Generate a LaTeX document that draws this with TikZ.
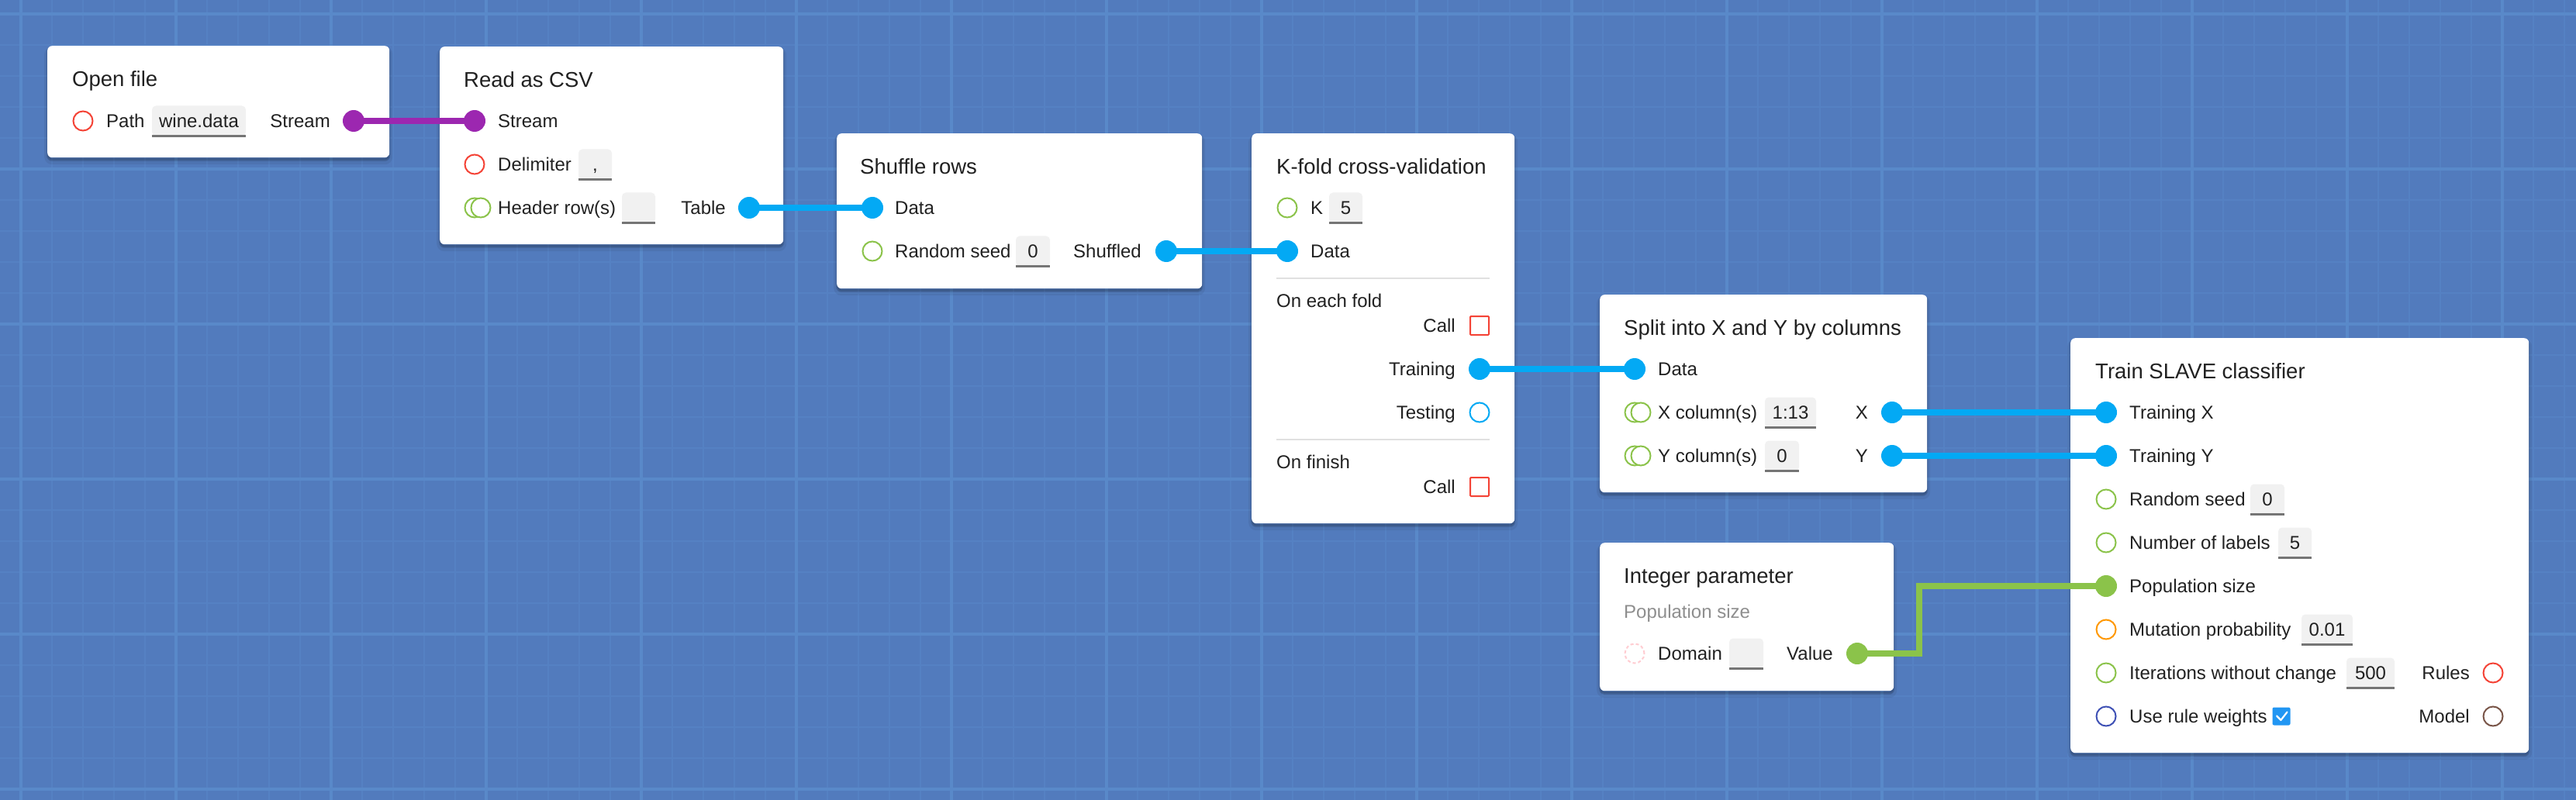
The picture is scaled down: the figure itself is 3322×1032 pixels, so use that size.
\documentclass[tikz,border=0pt]{standalone}
\usepackage{fontspec}
\setmainfont{Liberation Sans}
\usetikzlibrary{calc}
\pgfdeclarelayer{gridlayer}
\pgfdeclarelayer{cards}
\pgfdeclarelayer{conns}
\pgfsetlayers{gridlayer,cards,conns,main}
\definecolor{bg}{RGB}{82,123,189}
\definecolor{gridminor}{RGB}{85,129,195}
\definecolor{gridmajor}{RGB}{89,137,201}
\definecolor{txt}{HTML}{212121}
\definecolor{pred}{HTML}{F44336}
\definecolor{pgreen}{HTML}{8BC34A}
\definecolor{porange}{HTML}{FF9800}
\definecolor{pindigo}{HTML}{3F51B5}
\definecolor{pbrown}{HTML}{795548}
\definecolor{pblue}{HTML}{03A9F4}
\definecolor{ppurple}{HTML}{9C27B0}
\definecolor{ppink}{HTML}{FFCDD2}
\definecolor{inputgray}{HTML}{F1F1F1}
\definecolor{ulgray}{HTML}{757575}
\definecolor{divgray}{HTML}{E0E0E0}
\definecolor{subgray}{HTML}{8E8E8E}
\definecolor{cbblue}{HTML}{2196F3}
\newcommand\bodyf{\fontsize{24}{28}\selectfont}
\newcommand\titlef{\fontsize{27.5}{32}\selectfont}
\tikzset{
  card/.style={fill=white, rounded corners=6pt, inner sep=0pt, anchor=north west,
    preaction={fill=black, opacity=0.06, draw=black, line width=8pt, transform canvas={yshift=-5pt}},
    preaction={fill=black, opacity=0.10, draw=black, line width=3pt, transform canvas={yshift=-3pt}}},
  ttl/.style={font=\titlef, text=txt, inner sep=0pt, anchor=base west},
  lbl/.style={font=\bodyf, text=txt, inner sep=0pt},
  portfill/.style={circle, fill=#1, inner sep=0pt, minimum size=28pt},
  porthollow/.style={circle, draw=#1, fill=white, line width=2pt, inner sep=0pt, minimum size=25pt},
  portdash/.style={circle, draw=ppink, fill=white, line width=2pt, dash pattern=on 4pt off 3pt, inner sep=0pt, minimum size=25pt},
  callbox/.style={rectangle, draw=pred, fill=white, line width=2pt, rounded corners=1pt, inner sep=0pt, minimum size=24pt},
  chkbox/.style={rectangle, fill=cbblue, rounded corners=2pt, inner sep=0pt, minimum size=23pt},
  inbox/.style={fill=inputgray, rounded corners=5pt, inner sep=0pt, minimum height=39pt,
    text height=17.2pt, text depth=0pt, font=\bodyf, text=txt,
    append after command={[sharp corners] (\tikzlastnode.south west) edge[draw=ulgray, line width=2.5pt] (\tikzlastnode.south east)}},
  divider/.style={draw=divgray, line width=2.5pt},
  wire/.style={draw=#1, line width=8pt, line join=miter},
}
\begin{document}
\begin{tikzpicture}[x=1pt, y=-1pt]
\useasboundingbox (0,0) rectangle (3322,1032);
% background grid
\begin{pgfonlayer}{gridlayer}
\fill[bg] (0,0) rectangle (3322,1032);
\foreach \x in {27,67,...,3307} \draw[gridminor, line width=1.5pt] (\x,0) -- (\x,1032);
\foreach \y in {18,58,...,1018} \draw[gridminor, line width=1.5pt] (0,\y) -- (3322,\y);
\foreach \x in {27,227,...,3227} \draw[gridmajor, line width=3.5pt] (\x,0) -- (\x,1032);
\foreach \y in {18,218,...,1018} \draw[gridmajor, line width=3.5pt] (0,\y) -- (3322,\y);
\end{pgfonlayer}
% cards
\begin{pgfonlayer}{cards}
\node[card, minimum width=441pt, minimum height=144pt] (cOpen) at (61,59) {};
\node[card, minimum width=443pt, minimum height=255pt] (cRead) at (567,60) {};
\node[card, minimum width=471pt, minimum height=200pt] (cShuf) at (1079,172) {};
\node[card, minimum width=339pt, minimum height=503pt] (cKf) at (1614,172) {};
\node[card, minimum width=422pt, minimum height=255pt] (cSplit) at (2063,380) {};
\node[card, minimum width=379pt, minimum height=191pt] (cInt) at (2063,700) {};
\node[card, minimum width=591pt, minimum height=535pt] (cTrain) at (2670,436) {};
\end{pgfonlayer}
% Open file
\node[ttl] (ofT) at (93,112) {Open file};
\node[porthollow=pred] (ofPathP) at (107,156) {};
\node[lbl, anchor=base west] (ofPathL) at (137,164.5) {Path};
\node[inbox, minimum width=121pt] (ofPathV) at (256.5,156) {wine.data};
\node[lbl, anchor=base east] (ofOutL) at (426,164.5) {Stream};
\node[portfill=ppurple] (ofOut) at (456,156) {};
% Read as CSV
\node[ttl] (rcT) at (598,113) {Read as CSV};
\node[portfill=ppurple] (rcIn) at (612,156) {};
\node[lbl, anchor=base west] (rcInL) at (642,164.5) {Stream};
\node[porthollow=pred] (rcDelP) at (612,212) {};
\node[lbl, anchor=base west] (rcDelL) at (642,220.5) {Delimiter};
\node[inbox, minimum width=43pt] (rcDelV) at (767.5,212) {,};
\node[porthollow=pgreen] (rcHdrP) at (612,268) {};
\node[porthollow=pgreen] (rcHdrP2) at (620,268) {};
\node[lbl, anchor=base west] (rcHdrL) at (642,276.5) {Header row(s)};
\node[inbox, minimum width=43pt] (rcHdrV) at (823.5,268) {};
\node[lbl, anchor=base east] (rcOutL) at (936,276.5) {Table};
\node[portfill=pblue] (rcOut) at (966,268) {};
% Shuffle rows
\node[ttl] (shT) at (1109,225) {Shuffle rows};
\node[portfill=pblue] (shIn) at (1125,268) {};
\node[lbl, anchor=base west] (shInL) at (1154,276.5) {Data};
\node[porthollow=pgreen] (shSeedP) at (1125,324) {};
\node[lbl, anchor=base west] (shSeedL) at (1154,332.5) {Random seed};
\node[inbox, minimum width=44pt] (shSeedV) at (1332,324) {0};
\node[lbl, anchor=base east] (shOutL) at (1472,332.5) {Shuffled};
\node[portfill=pblue] (shOut) at (1504,324) {};
% K-fold
\node[ttl] (kfT) at (1646,224.5) {K-fold cross-validation};
\node[porthollow=pgreen] (kfKP) at (1660,268) {};
\node[lbl, anchor=base west] (kfKL) at (1690,276.5) {K};
\node[inbox, minimum width=43pt] (kfKV) at (1735.5,268) {5};
\node[portfill=pblue] (kfIn) at (1660,324) {};
\node[lbl, anchor=base west] (kfInL) at (1690,332.5) {Data};
\draw[divider] (1646,359) -- (1921,359);
\node[lbl, anchor=base west] (kfEach) at (1646,396.5) {On each fold};
\node[lbl, anchor=base east] (kfCall1L) at (1877,428.5) {Call};
\node[callbox] (kfCall1) at (1908,420) {};
\node[lbl, anchor=base east] (kfTrainL) at (1877,484.5) {Training};
\node[portfill=pblue] (kfTrain) at (1908,476) {};
\node[lbl, anchor=base east] (kfTestL) at (1877,540.5) {Testing};
\node[porthollow=pblue] (kfTest) at (1908,532) {};
\draw[divider] (1646,567) -- (1921,567);
\node[lbl, anchor=base west] (kfFin) at (1646,604) {On finish};
\node[lbl, anchor=base east] (kfCall2L) at (1877,636.5) {Call};
\node[callbox] (kfCall2) at (1908,628) {};
% Split
\node[ttl] (spT) at (2094,432.5) {Split into X and Y by columns};
\node[portfill=pblue] (spIn) at (2108,476) {};
\node[lbl, anchor=base west] (spInL) at (2138,484.5) {Data};
\node[porthollow=pgreen] (spXP) at (2108,532) {};
\node[porthollow=pgreen] (spXP2) at (2116,532) {};
\node[lbl, anchor=base west] (spXL) at (2138,540.5) {X column(s)};
\node[inbox, minimum width=66pt] (spXV) at (2309,532) {1:13};
\node[lbl, anchor=base east] (spXoL) at (2409,540.5) {X};
\node[portfill=pblue] (spX) at (2440,532) {};
\node[porthollow=pgreen] (spYP) at (2108,588) {};
\node[porthollow=pgreen] (spYP2) at (2116,588) {};
\node[lbl, anchor=base west] (spYL) at (2138,596.5) {Y column(s)};
\node[inbox, minimum width=44pt] (spYV) at (2298,588) {0};
\node[lbl, anchor=base east] (spYoL) at (2409,596.5) {Y};
\node[portfill=pblue] (spY) at (2440,588) {};
% Integer parameter
\node[ttl] (ipT) at (2094,752) {Integer parameter};
\node[lbl, text=subgray, anchor=base west] (ipSub) at (2094,797.5) {Population size};
\node[portdash] (ipDom) at (2108,843) {};
\node[lbl, anchor=base west] (ipDomL) at (2138,851.5) {Domain};
\node[inbox, minimum width=44pt] (ipDomV) at (2252,843) {};
\node[lbl, anchor=base east] (ipValL) at (2364,851.5) {Value};
\node[portfill=pgreen] (ipOut) at (2395,843) {};
% Train SLAVE classifier
\node[ttl] (trT) at (2702,488) {Train SLAVE classifier};
\node[portfill=pblue] (trX) at (2716,532) {};
\node[lbl, anchor=base west] (trXL) at (2746,540.5) {Training X};
\node[portfill=pblue] (trY) at (2716,588) {};
\node[lbl, anchor=base west] (trYL) at (2746,596.5) {Training Y};
\node[porthollow=pgreen] (trSeed) at (2716,644) {};
\node[lbl, anchor=base west] (trSeedL) at (2746,652.5) {Random seed};
\node[inbox, minimum width=44pt] (trSeedV) at (2924,644) {0};
\node[porthollow=pgreen] (trLab) at (2716,700) {};
\node[lbl, anchor=base west] (trLabL) at (2746,708.5) {Number of labels};
\node[inbox, minimum width=43pt] (trLabV) at (2959.5,700) {5};
\node[portfill=pgreen] (trPop) at (2716,756) {};
\node[lbl, anchor=base west] (trPopL) at (2746,764.5) {Population size};
\node[porthollow=porange] (trMut) at (2716,812) {};
\node[lbl, anchor=base west] (trMutL) at (2746,820.5) {Mutation probability};
\node[inbox, minimum width=66pt] (trMutV) at (3001,812) {0.01};
\node[porthollow=pgreen] (trIter) at (2716,868) {};
\node[lbl, anchor=base west] (trIterL) at (2746,876.5) {Iterations without change};
\node[inbox, minimum width=62pt] (trIterV) at (3057,868) {500};
\node[lbl, anchor=base east] (trRulesL) at (3185,876.5) {Rules};
\node[porthollow=pred] (trRules) at (3215,868) {};
\node[porthollow=pindigo] (trW) at (2716,924) {};
\node[lbl, anchor=base west] (trWL) at (2746,932.5) {Use rule weights};
\node[chkbox] (trWchk) at (2942,924) {};
\draw[white, line width=2.2pt, line cap=round, line join=round] (2936,923.5) -- (2941.4,928.9) -- (2949.5,918.5);
\node[lbl, anchor=base east] (trModelL) at (3185,932.5) {Model};
\node[porthollow=pbrown] (trModel) at (3215,924) {};
% connectors
\begin{pgfonlayer}{conns}
\draw[wire=ppurple] (ofOut.center) -- (rcIn.center);
\draw[wire=pblue] (rcOut.center) -- (shIn.center);
\draw[wire=pblue] (shOut.center) -- (kfIn.center);
\draw[wire=pblue] (kfTrain.center) -- (spIn.center);
\draw[wire=pblue] (spX.center) -- (trX.center);
\draw[wire=pblue] (spY.center) -- (trY.center);
\coordinate (bend) at (2475,800);
\draw[wire=pgreen] (ipOut.center) -- (ipOut.center -| bend) -- (bend |- trPop.center) -- (trPop.center);
\end{pgfonlayer}
\end{tikzpicture}
\end{document}
